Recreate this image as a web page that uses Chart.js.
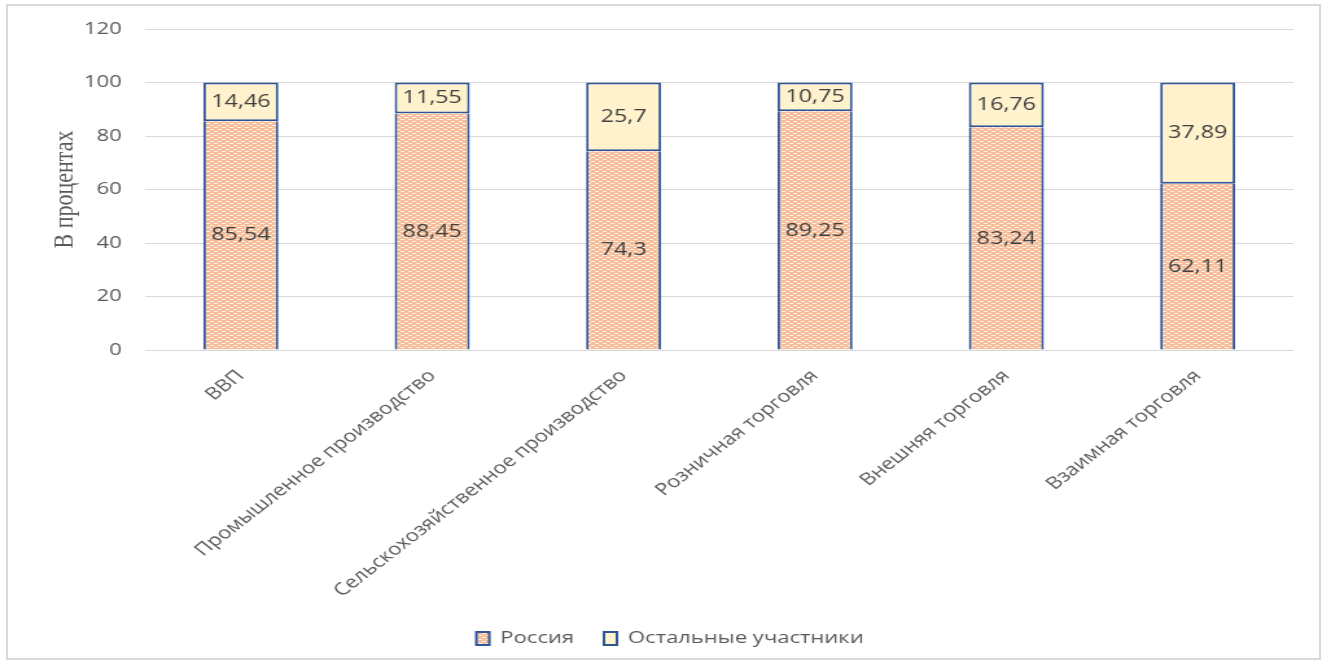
<!DOCTYPE html>
<html lang="ru">
<head>
<meta charset="utf-8">
<title>Доля России в показателях</title>
<script src="https://cdn.jsdelivr.net/npm/chart.js@4.4.1/dist/chart.umd.min.js"></script>
<style>
  html, body { margin: 0; padding: 0; background: #fff; }
  body { width: 1330px; height: 669px; position: relative; overflow: hidden; }
  .frame { position: absolute; left: 6px; top: 4px; width: 1315px; height: 656px; border: 2px solid #d9d9d9; box-sizing: border-box; }
  /* the chart is laid out narrow and widened, like the original sheet */
  .stretch { position: absolute; left: 0; top: 0; transform: scaleX(1.296); transform-origin: 0 0; }
</style>
</head>
<body>
<div class="frame"></div>
<div class="stretch"><canvas id="shareChart" width="1026" height="669"></canvas></div>
<script>
const categories = [
  "ВВП",
  "Промышленное производство",
  "Сельскохозяйственное производство",
  "Розничная торговля",
  "Внешняя торговля",
  "Взаимная торговля"
];
const russia = [85.54, 88.45, 74.3, 89.25, 83.24, 62.11];
const others = [14.46, 11.55, 25.7, 10.75, 16.76, 37.89];
const yTicks = [0, 20, 40, 60, 80, 100, 120];

const BORDER = "#2f5597";
const TEXT = "#595959";

// light orange fill with rows of short white dashes
function dashFill(base, dash) {
  const c = document.createElement("canvas");
  c.width = 6;
  c.height = 4;
  const g = c.getContext("2d");
  g.fillStyle = base;
  g.fillRect(0, 0, 6, 4);
  g.fillStyle = dash;
  g.fillRect(0, 1, 3, 1);
  g.fillRect(3, 3, 3, 1);
  return g.createPattern(c, "repeat");
}

// value in the middle of each segment, with a decimal comma
const segmentLabels = {
  id: "segmentLabels",
  afterDatasetsDraw(chart) {
    const ctx = chart.ctx;
    ctx.save();
    ctx.font = '18px "Open Sans"';
    ctx.fillStyle = "#404040";
    ctx.textAlign = "center";
    ctx.textBaseline = "middle";
    chart.data.datasets.forEach((ds, i) => {
      chart.getDatasetMeta(i).data.forEach((bar, j) => {
        const { x, y, base } = bar.getProps(["x", "y", "base"], true);
        ctx.fillText(String(ds.data[j]).replace(".", ","), x, (y + base) / 2);
      });
    });
    ctx.restore();
  }
};

// legend sits centred on the whole canvas, not on the padded box
const legendShift = {
  id: "legendShift",
  afterLayout(chart) {
    chart.legend.left += 18;
    chart.legend.right += 18;
  }
};

const ctx = document.getElementById("shareChart").getContext("2d");

new Chart(ctx, {
  type: "bar",
  data: {
    labels: categories,
    datasets: [
      {
        label: "Россия",
        data: russia,
        backgroundColor: dashFill("#f6bd98", "#fff4ec"),
        borderColor: BORDER,
        // top edge comes from the segment above
        borderWidth: { top: 0, left: 2, right: 2, bottom: 0 },
        borderSkipped: false,
        barPercentage: 0.392,
        categoryPercentage: 1
      },
      {
        label: "Остальные участники",
        data: others,
        backgroundColor: "#fff2cc",
        borderColor: BORDER,
        borderWidth: 2,
        borderSkipped: false,
        barPercentage: 0.392,
        categoryPercentage: 1
      }
    ]
  },
  options: {
    responsive: false,
    animation: false,
    layout: { padding: { top: 29, right: 28, bottom: 12, left: 0 } },
    scales: {
      x: {
        stacked: true,
        grid: { display: false, drawTicks: false },
        border: { display: false },
        ticks: {
          color: TEXT,
          font: { family: "Open Sans", size: 17 },
          minRotation: 45,
          maxRotation: 45,
          autoSkip: false,
          padding: 16
        },
        afterFit(scale) { scale.height = 257; }
      },
      y: {
        stacked: true,
        min: 0,
        max: 120,
        afterBuildTicks(scale) { scale.ticks = yTicks.map(v => ({ value: v })); },
        afterFit(scale) { scale.width = 112; },
        grid: { color: "#d9d9d9", lineWidth: 1, drawTicks: false },
        border: { display: false },
        ticks: {
          color: TEXT,
          font: { family: "Open Sans", size: 17 },
          padding: 18
        },
        title: {
          display: true,
          text: "В процентах",
          color: TEXT,
          font: { family: "Liberation Serif", size: 22 },
          padding: { top: 37, bottom: 0 }
        }
      }
    },
    plugins: {
      legend: {
        position: "bottom",
        labels: {
          color: TEXT,
          font: { family: "Open Sans", size: 17 },
          boxWidth: 10,
          boxHeight: 13,
          padding: 23,
          generateLabels(chart) {
            const items = Chart.defaults.plugins.legend.labels.generateLabels(chart);
            items.forEach(item => { item.lineWidth = 2; });
            return items;
          }
        }
      },
      tooltip: { enabled: false }
    }
  },
  plugins: [segmentLabels, legendShift]
});
</script>
</body>
</html>
